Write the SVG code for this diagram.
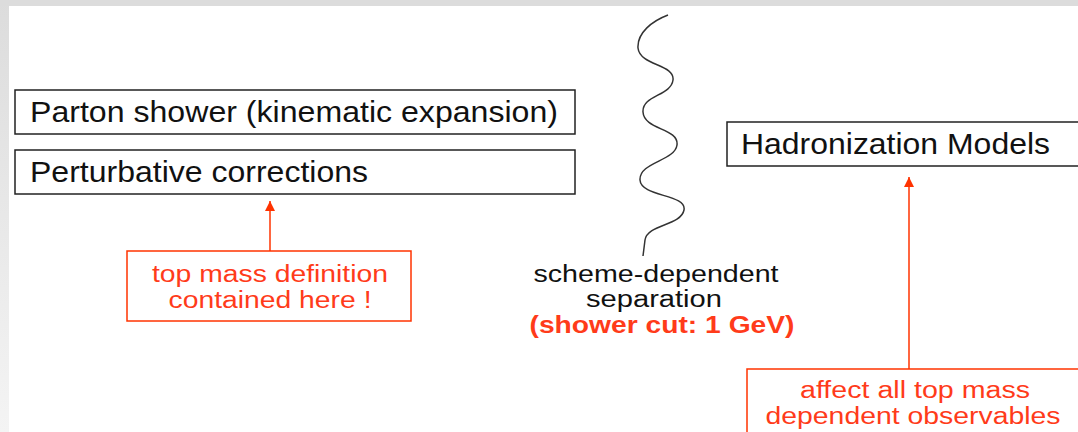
<svg xmlns="http://www.w3.org/2000/svg" width="1078" height="432" viewBox="0 0 1078 432">
<defs>
<linearGradient id="lg" x1="0" y1="0" x2="0" y2="1">
<stop offset="0" stop-color="#dcdcdc"/>
<stop offset="1" stop-color="#f4f4f4"/>
</linearGradient>
<marker id="ah" viewBox="0 0 10 10" refX="10" refY="5" markerWidth="11" markerHeight="10" markerUnits="userSpaceOnUse" orient="auto">
<path d="M0,0 L10,5 L0,10 z" fill="#ff3300"/>
</marker>
<style>
.box{fill:#fff;stroke:#222;stroke-width:1.5}
.rbox{fill:#fff;stroke:#ff3300;stroke-width:1.5}
.bt{font-family:"Liberation Sans",Arial,sans-serif;font-size:29px;fill:#111}
.st{font-family:"Liberation Sans",Arial,sans-serif;font-size:23px;text-anchor:middle}
.red{fill:#ff3b1a}
.blk{fill:#111}
.conn{stroke:#ff3300;stroke-width:1.5;fill:none}
</style>
</defs>
<rect x="0" y="0" width="1078" height="432" fill="#fff"/>
<rect x="0" y="0" width="9" height="432" fill="url(#lg)"/>
<rect x="0" y="0" width="1078" height="6" fill="#dcdcdc"/>

<g id="parton">
<rect class="box" x="15" y="90" width="560" height="44"/>
<text class="bt" x="30" y="122" textLength="528" lengthAdjust="spacingAndGlyphs">Parton shower (kinematic expansion)</text>
</g>
<g id="perturbative">
<rect class="box" x="15" y="150" width="560" height="44"/>
<text class="bt" x="30" y="182" textLength="338" lengthAdjust="spacingAndGlyphs">Perturbative corrections</text>
</g>
<g id="hadronization">
<path class="box" d="M1080,122 H727 V166 H1080"/>
<text class="bt" x="741" y="154" textLength="309" lengthAdjust="spacingAndGlyphs">Hadronization Models</text>
</g>
<g id="topmass">
<rect class="rbox" x="127" y="251" width="284" height="70"/>
<text class="st red" x="270" y="282" textLength="236" lengthAdjust="spacingAndGlyphs">top mass definition</text>
<text class="st red" x="270" y="308" textLength="203" lengthAdjust="spacingAndGlyphs">contained here !</text>
</g>
<g id="affect">
<path class="rbox" d="M1080,369 H747 V434"/>
<text class="st red" x="915" y="398" textLength="230" lengthAdjust="spacingAndGlyphs">affect all top mass</text>
<text class="st red" x="913" y="424" textLength="295" lengthAdjust="spacingAndGlyphs">dependent observables</text>
</g>
<g id="separation">
<path d="M668,15 C652,21 637,33 638,48 C640,66 675,64 673,80 C671,96 642,95 643,112 C644,130 679,128 677,145 C675,161 639,162 640,180 C641,197 687,194 684,210 C681,226 647,224 645,240 L643,256" fill="none" stroke="#333" stroke-width="1.5"/>
<text class="st blk" x="656" y="282" textLength="245" lengthAdjust="spacingAndGlyphs">scheme-dependent</text>
<text class="st blk" x="654" y="307" textLength="136" lengthAdjust="spacingAndGlyphs">separation</text>
<text class="st red" x="662" y="333" font-weight="bold" textLength="265" lengthAdjust="spacingAndGlyphs">(shower cut: 1 GeV)</text>
</g>
<g id="connectors">
<line class="conn" x1="270" y1="251" x2="270" y2="201" marker-end="url(#ah)"/>
<line class="conn" x1="909" y1="369" x2="909" y2="177" marker-end="url(#ah)"/>
</g>
</svg>
